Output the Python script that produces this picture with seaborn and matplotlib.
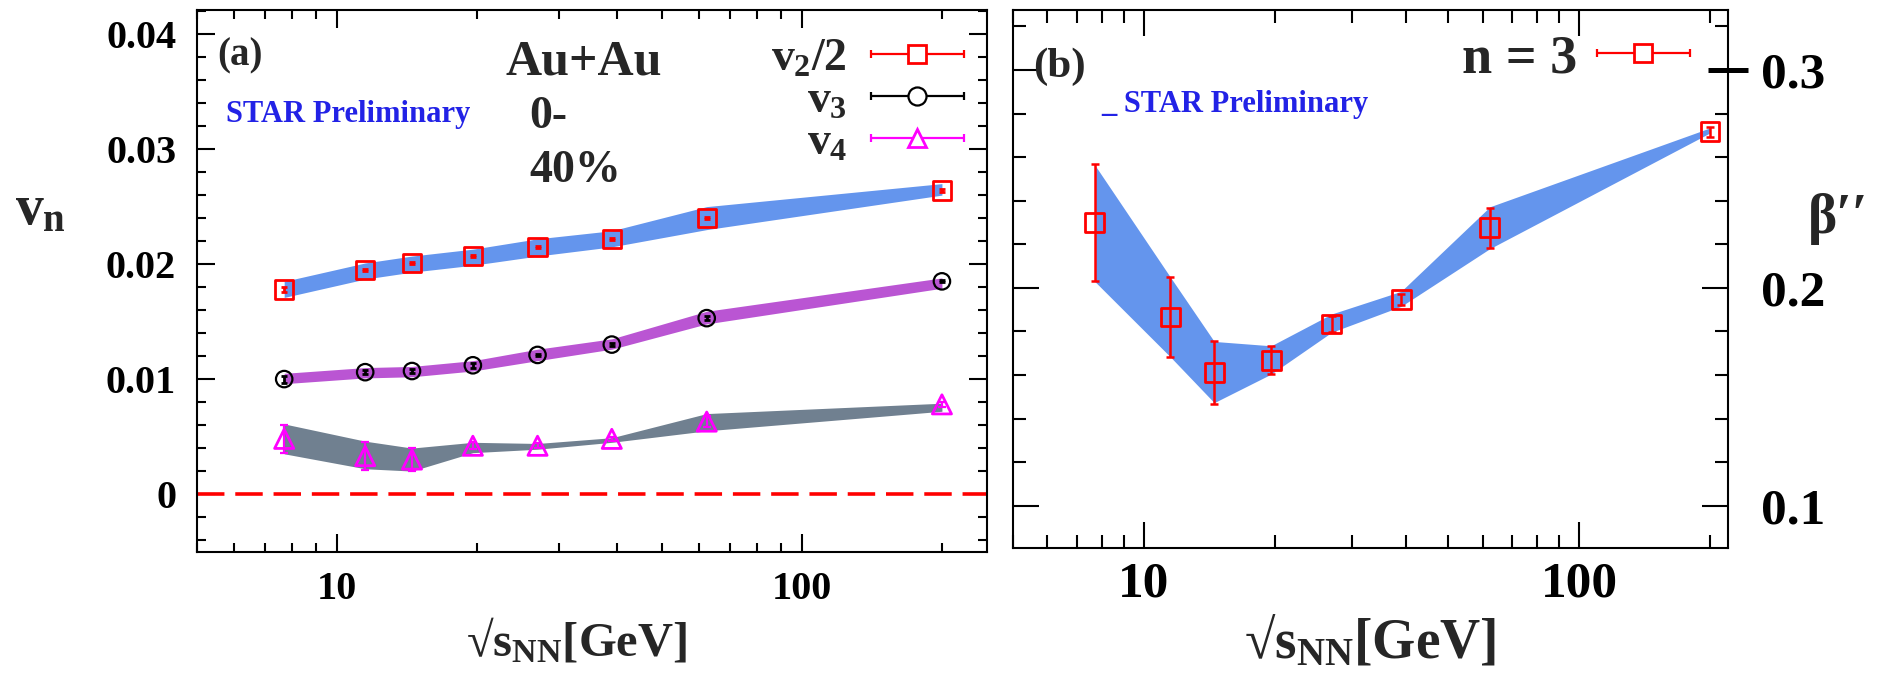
import numpy as np
import pandas as pd
import matplotlib
matplotlib.use("Agg")
import matplotlib.pyplot as plt
import seaborn as sns
from matplotlib.ticker import FixedLocator, LogLocator, NullFormatter, FuncFormatter, MultipleLocator
from matplotlib.lines import Line2D
from matplotlib.collections import LineCollection
from matplotlib.container import ErrorbarContainer
from matplotlib.legend_handler import HandlerErrorbar

# ---------------- data ----------------
energy = [7.7, 11.5, 14.5, 19.6, 27.0, 39.0, 62.4, 200.0]

v2_half = [0.0178, 0.0195, 0.0201, 0.0207, 0.0215, 0.0222, 0.0240, 0.0264]
v2_err = [0.0002, 0.0001, 0.0001, 0.0001, 0.0001, 0.0001, 0.0001, 0.0001]
v2_band_lo = [0.0171, 0.0187, 0.0193, 0.0199, 0.0207, 0.0215, 0.0230, 0.0260]
v2_band_hi = [0.0185, 0.0201, 0.0207, 0.0213, 0.0222, 0.0229, 0.0250, 0.0270]

v3 = [0.0100, 0.0106, 0.0107, 0.0112, 0.0121, 0.0130, 0.0153, 0.0185]
v3_err = [0.0003, 0.0002, 0.0002, 0.0002, 0.0001, 0.0001, 0.0002, 0.0001]
v3_band_lo = [0.0096, 0.0101, 0.0102, 0.0107, 0.0116, 0.0126, 0.0148, 0.0179]
v3_band_hi = [0.0105, 0.0110, 0.0111, 0.0116, 0.0126, 0.0135, 0.0159, 0.0188]

v4 = [0.0048, 0.0033, 0.0030, 0.0042, 0.0042, 0.0048, 0.0063, 0.0078]
v4_err = [0.0012, 0.0012, 0.0010, 0.0003, 0.0002, 0.0002, 0.0005, 0.0002]
v4_band_lo = [0.0035, 0.0022, 0.0020, 0.0036, 0.0039, 0.0045, 0.0055, 0.0072]
v4_band_hi = [0.0061, 0.0046, 0.0040, 0.0045, 0.0044, 0.0049, 0.0070, 0.0079]

beta = [0.2298, 0.1866, 0.1611, 0.1668, 0.1834, 0.1946, 0.2275, 0.2716]
beta_err = [0.0268, 0.0183, 0.0143, 0.0065, 0.0035, 0.0026, 0.0090, 0.0022]
beta_band_lo = [0.2030, 0.1683, 0.1473, 0.1604, 0.1796, 0.1915, 0.2180, 0.2711]
beta_band_hi = [0.2565, 0.2049, 0.1754, 0.1734, 0.1880, 0.1984, 0.2372, 0.2734]

x_major_ticks = [10, 100]
a_y_ticks = [0.0, 0.01, 0.02, 0.03, 0.04]
b_y_ticks = [0.1, 0.2, 0.3]

df = pd.DataFrame({"energy": energy, "v2": v2_half, "v3": v3, "v4": v4, "beta": beta})

# ---------------- style ----------------
sns.set_theme(style="ticks")
plt.rcParams.update({
    "font.family": ["Liberation Serif", "DejaVu Serif"],
    "font.weight": "bold",
    "axes.labelweight": "bold",
    "mathtext.fontset": "custom",
    "mathtext.rm": "Liberation Serif:bold",
    "mathtext.it": "Liberation Serif:bold",
    "mathtext.bf": "Liberation Serif:bold",
    "axes.linewidth": 1.5,
    "axes.edgecolor": "black",
    "axes.facecolor": "white",
    "xtick.color": "black",
    "ytick.color": "black",
    "lines.solid_capstyle": "butt",
})

BLUE_BAND = "#6495ED"
PURPLE_BAND = "#BA55D3"
GRAY_BAND = "#708090"
STAR_BLUE = "#2222E6"

fig = plt.figure(figsize=(18.84, 6.78), dpi=100)
axA = fig.add_axes([0.10456, 0.18584, 0.41932, 0.79941])
axB = fig.add_axes([0.53769, 0.19174, 0.37951, 0.79351])

# ---------------- panel (a) ----------------
axA.fill_between(energy, v2_band_lo, v2_band_hi, color=BLUE_BAND, lw=0, zorder=1)
axA.fill_between(energy, v3_band_lo, v3_band_hi, color=PURPLE_BAND, lw=0, zorder=1)
axA.fill_between(energy, v4_band_lo, v4_band_hi, color=GRAY_BAND, lw=0, zorder=1)
axA.axhline(0, color="red", lw=2.6, ls=(0, (7.6, 3.0)), zorder=2)

axA.errorbar(energy, v2_half, yerr=v2_err, fmt="none", ecolor="red", elinewidth=2, capsize=2, capthick=2, zorder=3)
axA.errorbar(energy, v3, yerr=v3_err, fmt="none", ecolor="black", elinewidth=2, capsize=2, capthick=2, zorder=3)
axA.errorbar(energy, v4, yerr=v4_err, fmt="none", ecolor="#FF00FF", elinewidth=1.6, capsize=3.2, capthick=1.6, zorder=3)

sns.scatterplot(data=df, x="energy", y="v2", marker="s", s=175, facecolor="none",
                edgecolor="red", linewidth=2.0, ax=axA, zorder=4, legend=False)
sns.scatterplot(data=df, x="energy", y="v3", marker="o", s=140, facecolor="none",
                edgecolor="black", linewidth=1.6, ax=axA, zorder=4, legend=False)
sns.scatterplot(data=df, x="energy", y="v4", marker="^", s=190, facecolor="none",
                edgecolor="#FF00FF", linewidth=2.0, ax=axA, zorder=4, legend=False)

axA.set_xscale("log")
axA.set_xlim(5, 250)
axA.set_ylim(-0.00504, 0.0421)
axA.xaxis.set_major_locator(FixedLocator(x_major_ticks))
axA.xaxis.set_major_formatter(FuncFormatter(lambda v, p: f"{v:g}"))
axA.xaxis.set_minor_locator(LogLocator(base=10, subs=(2, 3, 4, 5, 6, 7, 8, 9)))
axA.xaxis.set_minor_formatter(NullFormatter())
axA.yaxis.set_major_locator(FixedLocator(a_y_ticks))
axA.yaxis.set_major_formatter(FuncFormatter(lambda v, p: "0" if abs(v) < 1e-9 else f"{v:.2f}"))
axA.yaxis.set_minor_locator(MultipleLocator(0.002))
axA.tick_params(which="both", direction="in", top=True, right=True, width=1.5, colors="black")
axA.tick_params(which="major", length=13, labelsize=29)
axA.tick_params(which="minor", length=6.5)
axA.tick_params(axis="x", which="major", pad=14)
axA.tick_params(axis="y", which="major", pad=15)
for s in axA.spines.values():
    s.set_linewidth(1.5)
    s.set_color("black")

axA.set_xlabel("√$s_{NN}$[GeV]", fontsize=35, fontweight="bold", va="baseline")
axA.xaxis.set_label_coords(0.481, -0.1919)
axA.set_ylabel("$v_n$", fontsize=40, rotation=0, ha="left", va="center")
axA.yaxis.set_label_coords(-0.230, 0.631)

axA.text(0.0253, 0.8985, "(a)", transform=axA.transAxes, fontsize=28, va="baseline", ha="left")
axA.text(0.0367, 0.7934, "STAR Preliminary", transform=axA.transAxes, fontsize=22,
         color=STAR_BLUE, va="baseline", ha="left")
axA.text(0.3911, 0.8819, "Au+Au", transform=axA.transAxes, fontsize=36, va="baseline", ha="left")
axA.text(0.4203, 0.7823, "0-", transform=axA.transAxes, fontsize=33, va="baseline", ha="left")
axA.text(0.4203, 0.6827, "40%", transform=axA.transAxes, fontsize=33, va="baseline", ha="left")


def proxy(marker, color, ms, mew):
    line = Line2D([], [], ls="none", marker=marker, ms=ms, mfc="white", mec=color, mew=mew, color=color)
    cap = Line2D([], [], ls="none", marker="|", color=color, ms=6, mew=1.6)
    bars = LineCollection([], colors=color, linewidths=1.6)
    return ErrorbarContainer((line, (cap, cap), (bars,)), has_xerr=True, has_yerr=False)


hA = [proxy("s", "red", 13, 2.0), proxy("o", "black", 13, 1.6), proxy("^", "#FF00FF", 13, 2.0)]
axA.legend(hA, ["$v_2/2$", "$v_3$", "$v_4$"], loc="upper right", bbox_to_anchor=(0.9709, 0.948),
           frameon=False, fontsize=33, markerfirst=False, numpoints=1, handlelength=2.03,
           handletextpad=0.52, labelspacing=0.0, borderpad=0, borderaxespad=0,
           handler_map={ErrorbarContainer: HandlerErrorbar(xerr_size=1.015)})

# ---------------- panel (b) ----------------
axB.fill_between(energy, beta_band_lo, beta_band_hi, color=BLUE_BAND, lw=0, zorder=1)
axB.errorbar(energy, beta, yerr=beta_err, fmt="none", ecolor="red", elinewidth=1.8, capsize=3.2, capthick=1.8, zorder=3)
sns.scatterplot(data=df, x="energy", y="beta", marker="s", s=185, facecolor="none",
                edgecolor="red", linewidth=2.0, ax=axB, zorder=4, legend=False)

axB.set_xscale("log")
axB.set_xlim(5, 220)
axB.set_ylim(0.0806, 0.3275)
axB.xaxis.set_major_locator(FixedLocator(x_major_ticks))
axB.xaxis.set_major_formatter(FuncFormatter(lambda v, p: f"{v:g}"))
axB.xaxis.set_minor_locator(LogLocator(base=10, subs=(2, 3, 4, 5, 6, 7, 8, 9)))
axB.xaxis.set_minor_formatter(NullFormatter())
axB.yaxis.set_major_locator(FixedLocator(b_y_ticks))
axB.yaxis.set_major_formatter(FuncFormatter(lambda v, p: f"{v:.1f}"))
axB.yaxis.set_minor_locator(MultipleLocator(0.02))
axB.tick_params(which="both", direction="in", top=True, right=True, left=True, width=1.5, colors="black")
axB.tick_params(which="major", length=19, labelsize=37)
axB.tick_params(which="minor", length=9.5)
axB.tick_params(axis="y", labelleft=False, labelright=True)
axB.tick_params(axis="x", which="major", pad=10)
axB.tick_params(axis="y", which="major", pad=24)
for s in axB.spines.values():
    s.set_linewidth(1.5)
    s.set_color("black")

axB.set_xlabel("√$s_{NN}$[GeV]", fontsize=40, fontweight="bold", va="baseline")
axB.xaxis.set_label_coords(0.5, -0.2045)
axB.yaxis.set_label_position("right")
axB.set_ylabel("β′′", fontsize=40, fontweight="bold", rotation=0, ha="left", va="center")
axB.yaxis.set_label_coords(1.112, 0.6115)

axB.text(0.028, 0.8755, "(b)", transform=axB.transAxes, fontsize=31, va="baseline", ha="left")
axB.text(0.1231, 0.8104, "_ STAR Preliminary", transform=axB.transAxes, fontsize=22,
         color=STAR_BLUE, va="baseline", ha="left")

hB = [proxy("s", "red", 13, 2.0)]
axB.legend(hB, ["n = 3"], loc="upper right", bbox_to_anchor=(0.9469, 0.955),
           frameon=False, fontsize=39, markerfirst=False, numpoints=1, handlelength=1.72,
           handletextpad=0.37, borderpad=0, borderaxespad=0,
           handler_map={ErrorbarContainer: HandlerErrorbar(xerr_size=0.86)})

# thick marker at the 0.3 tick on the right axis
tk = axB.yaxis.get_major_ticks(len(b_y_ticks))[2]
tk.tick2line.set_marker("_")
tk.tick2line.set_markersize(29)
tk.tick2line.set_markeredgewidth(3.6)

fig.savefig("out.png", dpi=100)
